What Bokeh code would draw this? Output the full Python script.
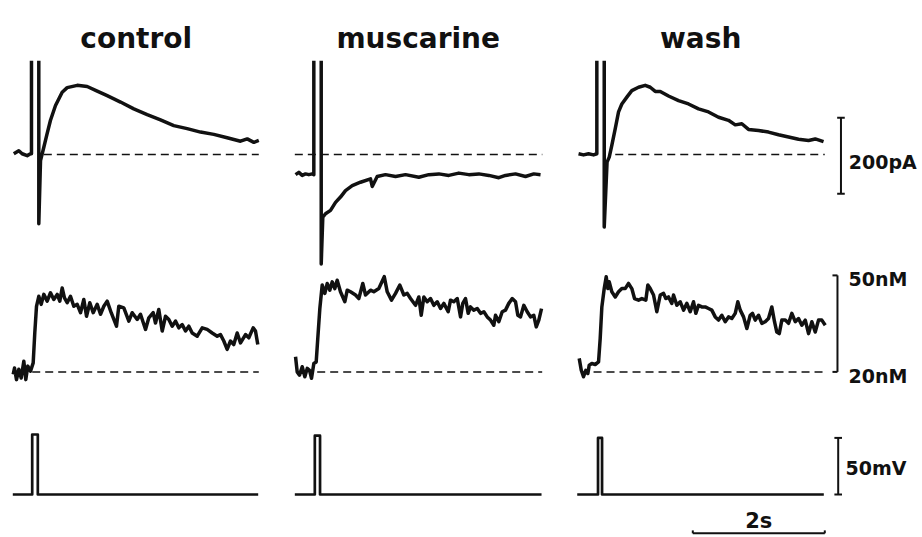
from bokeh.plotting import figure
from bokeh.models import Range1d
from bokeh.embed import file_html
from bokeh.resources import INLINE
from bokeh.core.properties import value

nan = float("nan")

# ---------------- data ----------------
conditions = ["control", "muscarine", "wash"]

# membrane current (pA), time (s) from start of each sweep; nan = off-scale gap of stimulus artifact
ctrl_cur_t = [0.015, 0.091, 0.142, 0.218, 0.268, 0.283, 0.283, nan, 0.394, 0.394, 0.42, 0.47, 0.52,
              0.571, 0.647, 0.748, 0.824, 0.976, 1.127, 1.279, 1.43, 1.632, 1.833, 2.036, 2.238,
              2.439, 2.642, 2.844, 3.045, 3.248, 3.45, 3.552, 3.652, 3.727]
ctrl_cur_pA = [2, 10, 2, -3, 2, 2, 247, nan, 247, -182, -16, 19, 55, 90, 129, 164, 176, 182, 179,
               167, 155, 138, 120, 105, 91, 76, 68, 59, 53, 44, 35, 41, 32, 37]

musc_cur_t = [0.011, 0.061, 0.112, 0.162, 0.212, 0.264, 0.288, 0.288, nan, 0.4, 0.4, 0.424, 0.465,
              0.541, 0.617, 0.692, 0.768, 0.87, 0.995, 1.147, 1.173, 1.248, 1.374, 1.526, 1.677,
              1.879, 2.03, 2.182, 2.333, 2.485, 2.636, 2.788, 2.939, 3.091, 3.192, 3.344, 3.495,
              3.621, 3.723]
musc_cur_pA = [-53, -47, -55, -51, -53, -51, -53, 247, nan, 247, -288, -165, -156, -147, -126, -112,
               -95, -82, -73, -64, -84, -58, -53, -58, -53, -60, -53, -51, -55, -49, -53, -51, -55,
               -61, -55, -51, -58, -51, -53]

wash_cur_t = [0.02, 0.095, 0.171, 0.247, 0.297, 0.297, nan, 0.409, 0.409, 0.452, 0.485, 0.524,
              0.576, 0.626, 0.676, 0.752, 0.827, 0.929, 1.03, 1.106, 1.182, 1.258, 1.383, 1.535,
              1.686, 1.838, 1.989, 2.141, 2.292, 2.394, 2.494, 2.595, 2.747, 2.898, 3.05, 3.202,
              3.353, 3.505, 3.606, 3.732]
wash_cur_pA = [2, -1, 2, -1, 2, 247, nan, 247, -191, -20, -7, 24, 68, 112, 133, 151, 168, 177, 182,
               177, 166, 166, 154, 142, 133, 120, 112, 98, 90, 78, 81, 66, 63, 59, 52, 46, 40, 37,
               41, 34]

# intracellular calcium (nM)
ctrl_ca_t = [0.006, 0.026, 0.056, 0.091, 0.127, 0.167, 0.197, 0.227, 0.268, 0.309, 0.333, 0.359,
             0.394, 0.43, 0.47, 0.521, 0.571, 0.621, 0.673, 0.712, 0.748, 0.783, 0.824, 0.874,
             0.924, 0.976, 1.026, 1.076, 1.117, 1.167, 1.218, 1.279, 1.329, 1.379, 1.43, 1.491,
             1.571, 1.606, 1.682, 1.758, 1.809, 1.885, 1.935, 2.011, 2.061, 2.127, 2.162, 2.212,
             2.264, 2.314, 2.364, 2.415, 2.465, 2.515, 2.567, 2.617, 2.667, 2.718, 2.794, 2.87,
             2.945, 3.021, 3.097, 3.147, 3.197, 3.248, 3.298, 3.348, 3.4, 3.45, 3.526, 3.576,
             3.642, 3.677, 3.712]
ctrl_ca_nM = [19.2, 21.2, 17.6, 20.8, 18.1, 23.3, 17.6, 21.8, 20.2, 22.8, 32.1, 40.4, 43.5, 41.0,
              44.1, 42.0, 44.6, 42.5, 44.1, 42.0, 46.1, 43.0, 41.5, 43.5, 40.4, 41.0, 38.4, 42.5,
              37.3, 41.5, 38.4, 41.0, 37.9, 40.4, 42.0, 38.4, 34.2, 40.4, 39.9, 35.8, 38.4, 36.3,
              37.9, 33.2, 36.8, 38.4, 35.2, 39.4, 32.7, 37.3, 36.3, 34.2, 35.8, 33.7, 34.7, 32.7,
              34.2, 32.1, 31.1, 33.7, 33.2, 32.1, 31.1, 31.6, 29.6, 27.0, 29.6, 28.5, 32.1, 29.0,
              31.6, 30.6, 33.7, 32.7, 28.5]

musc_ca_t = [0.011, 0.036, 0.071, 0.112, 0.152, 0.188, 0.223, 0.253, 0.288, 0.324, 0.348, 0.379,
             0.415, 0.455, 0.491, 0.53, 0.567, 0.606, 0.642, 0.692, 0.758, 0.794, 0.844, 0.92,
             0.97, 1.03, 1.071, 1.147, 1.197, 1.273, 1.355, 1.4, 1.465, 1.526, 1.591, 1.652,
             1.703, 1.753, 1.829, 1.879, 1.915, 1.955, 2.006, 2.056, 2.106, 2.158, 2.208, 2.258,
             2.324, 2.359, 2.409, 2.461, 2.511, 2.545, 2.586, 2.627, 2.662, 2.712, 2.764, 2.814,
             2.864, 2.915, 2.965, 3.015, 3.041, 3.091, 3.142, 3.192, 3.242, 3.294, 3.344, 3.379,
             3.42, 3.47, 3.521, 3.571, 3.621, 3.658, 3.697, 3.738]
musc_ca_nM = [24.7, 20.0, 19.0, 21.6, 18.5, 21.1, 20.5, 18.0, 22.6, 23.1, 30.4, 39.7, 47.0, 44.4,
              47.5, 45.4, 48.0, 45.9, 48.5, 44.9, 41.8, 45.4, 44.9, 43.9, 42.8, 47.5, 43.9, 45.4,
              44.9, 45.9, 49.6, 44.9, 42.3, 44.4, 47.0, 43.9, 44.4, 42.8, 40.7, 43.3, 37.6, 43.3,
              41.8, 42.8, 40.7, 41.8, 39.7, 41.3, 38.7, 42.3, 41.8, 42.8, 37.1, 41.3, 42.8, 38.2,
              40.2, 39.2, 39.7, 38.2, 38.7, 37.1, 36.1, 34.5, 37.6, 35.6, 38.7, 39.2, 41.3, 42.8,
              41.8, 37.6, 37.1, 40.7, 38.7, 37.1, 37.6, 34.0, 36.1, 39.7]

wash_ca_t = [0.03, 0.061, 0.095, 0.13, 0.161, 0.182, 0.221, 0.273, 0.323, 0.348, 0.373, 0.409,
             0.439, 0.464, 0.485, 0.524, 0.576, 0.626, 0.676, 0.727, 0.777, 0.827, 0.868, 0.929,
             0.979, 1.039, 1.07, 1.106, 1.156, 1.206, 1.258, 1.308, 1.342, 1.383, 1.433, 1.459,
             1.509, 1.561, 1.611, 1.661, 1.712, 1.762, 1.797, 1.838, 1.888, 1.939, 1.989, 2.039,
             2.091, 2.141, 2.191, 2.242, 2.292, 2.342, 2.394, 2.433, 2.47, 2.52, 2.57, 2.621,
             2.656, 2.697, 2.747, 2.797, 2.848, 2.898, 2.948, 2.989, 3.024, 3.061, 3.1, 3.152,
             3.202, 3.252, 3.303, 3.353, 3.403, 3.455, 3.505, 3.555, 3.606, 3.656, 3.706, 3.758]
wash_ca_nM = [24.2, 20.5, 18.5, 20.5, 19.5, 22.1, 22.6, 22.3, 23.1, 30.4, 40.2, 45.9, 49.6, 45.9,
              48.0, 44.9, 43.3, 44.9, 45.9, 45.9, 47.5, 45.9, 42.8, 42.3, 42.8, 42.3, 47.0, 45.9,
              43.9, 38.7, 43.9, 44.4, 42.8, 43.3, 41.3, 43.9, 40.7, 41.8, 39.2, 41.3, 38.7, 41.8,
              38.2, 40.7, 40.2, 40.2, 39.7, 39.2, 37.1, 36.1, 37.6, 35.6, 37.1, 36.6, 38.2, 41.8,
              39.2, 37.1, 33.5, 37.6, 38.2, 36.1, 37.6, 35.1, 35.6, 36.6, 40.2, 35.6, 32.4, 31.9,
              36.1, 36.1, 35.1, 38.2, 35.6, 36.6, 34.5, 36.1, 31.9, 35.6, 32.4, 36.1, 36.1, 34.5]

# command voltage (mV, relative to holding)
ctrl_v_t = [0.0, 0.294, 0.294, 0.379, 0.379, 3.718]
ctrl_v_mV = [0, 0, 53, 53, 0, 0]
musc_v_t = [0.0, 0.303, 0.303, 0.382, 0.382, 3.738]
musc_v_mV = [0, 0, 52, 52, 0, 0]
wash_v_t = [0.0, 0.315, 0.315, 0.376, 0.376, 3.736]
wash_v_mV = [0, 0, 50, 50, 0, 0]

# reference levels (dashed) and their time extents per sweep
cur_ref_pA = 0
cur_ref_span = [(0.47, 3.727), (0.0, 3.75), (0.576, 3.75)]
ca_ref_nM = 20
ca_ref_span = [(0.294, 3.727), (0.339, 3.748), (0.247, 3.758)]

# scale bars
bar_pA, bar_nM_lo, bar_nM_hi, bar_mV, bar_s = 200, 20, 50, 50, 2
bar_labels = ["200pA", "50nM", "20nM", "50mV", "2s"]

# ---------------- layout ----------------
W, H = 922, 537
PX_S = 66.0                     # pixels per second
x_start = -12.3 / PX_S
col_off = [0.0, 4.273, 8.552]   # sweep start of each column (s)
PX_PA, PX_NM, PX_MV = 0.38, 3.217, 1.132

cur_zero_px, ca20_px, mv_zero_px = 154.0, 371.4, 494.0   # from top of frame
cur_range = Range1d(-(H - cur_zero_px) / PX_PA, cur_zero_px / PX_PA)
ca_range = Range1d(20 - (H - ca20_px) / PX_NM, 20 + ca20_px / PX_NM)
mv_range = Range1d(-(H - mv_zero_px) / PX_MV, mv_zero_px / PX_MV)

p = figure(width=W, height=H, output_backend="svg", toolbar_location=None,
           x_range=Range1d(x_start, x_start + W / PX_S), y_range=cur_range,
           x_axis_location=None, y_axis_location=None, min_border=0,
           outline_line_color=None, background_fill_color="white",
           border_fill_color="white")
p.grid.visible = False
p.extra_y_ranges = {"ca": ca_range, "mv": mv_range}

INK = "#111111"
TW = 3.5

cur = [(ctrl_cur_t, ctrl_cur_pA), (musc_cur_t, musc_cur_pA), (wash_cur_t, wash_cur_pA)]
ca = [(ctrl_ca_t, ctrl_ca_nM), (musc_ca_t, musc_ca_nM), (wash_ca_t, wash_ca_nM)]
vv = [(ctrl_v_t, ctrl_v_mV), (musc_v_t, musc_v_mV), (wash_v_t, wash_v_mV)]

for i, off in enumerate(col_off):
    t, y = cur[i]
    p.line([a + off for a in t], y, line_color=INK, line_width=TW, line_join="round")
    t, y = ca[i]
    p.line([a + off for a in t], y, line_color=INK, line_width=TW, line_join="round",
           y_range_name="ca")
    t, y = vv[i]
    p.line([a + off for a in t], y, line_color=INK, line_width=2.7, line_join="round",
           y_range_name="mv")
    s, e = cur_ref_span[i]
    p.line([off + s, off + e], [cur_ref_pA, cur_ref_pA], line_color=INK, line_width=1.5,
           line_dash="8 5")
    s, e = ca_ref_span[i]
    p.line([off + s, off + e], [ca_ref_nM, ca_ref_nM], line_color=INK, line_width=1.5,
           line_dash="8 5", y_range_name="ca")

# condition titles
p.text(x=[off + 1.87 for off in col_off], y=[304] * 3, text=conditions,
       text_font=value("DejaVu Sans"), text_font_style="bold", text_font_size="28px",
       text_align="center", text_baseline="alphabetic", text_color=INK)

# --- scale bars ---
cap = 3.8 / PX_S
xb_pa = 12.548
pa_lo = -103.4
p.segment(x0=[xb_pa, xb_pa - cap, xb_pa - cap], y0=[pa_lo, pa_lo, pa_lo + bar_pA],
          x1=[xb_pa, xb_pa + cap, xb_pa + cap], y1=[pa_lo + bar_pA, pa_lo, pa_lo + bar_pA],
          line_color=INK, line_width=2)
xb_ca = 12.495
tick = 5.0 / PX_S
p.segment(x0=[xb_ca, xb_ca - tick, xb_ca - tick], y0=[bar_nM_lo, bar_nM_lo, bar_nM_hi],
          x1=[xb_ca, xb_ca, xb_ca], y1=[bar_nM_hi, bar_nM_lo, bar_nM_hi],
          line_color=INK, line_width=2, y_range_name="ca")
xb_mv = 12.506
p.segment(x0=[xb_mv, xb_mv - cap, xb_mv - cap], y0=[0, 0, bar_mV],
          x1=[xb_mv, xb_mv + cap, xb_mv + cap], y1=[bar_mV, 0, bar_mV],
          line_color=INK, line_width=2, y_range_name="mv")
xs0 = 10.303
ys = -34.3
up = 2.6
p.segment(x0=[xs0, xs0, xs0 + bar_s], y0=[ys, ys, ys], x1=[xs0 + bar_s, xs0, xs0 + bar_s],
          y1=[ys, ys + up, ys + up], line_color=INK, line_width=2, y_range_name="mv")

lab_font = dict(text_font=value("DejaVu Sans"), text_font_style="bold", text_color=INK,
                text_baseline="middle")
p.text(x=[12.667], y=[-20.0], text=[bar_labels[0]], text_font_size="19px",
       text_align="left", **lab_font)
p.text(x=[12.662, 12.662], y=[48.8, 18.6], text=bar_labels[1:3], text_font_size="19px",
       text_align="left", y_range_name="ca", **lab_font)
p.text(x=[12.617], y=[23.0], text=[bar_labels[3]], text_font_size="19px",
       text_align="left", y_range_name="mv", **lab_font)
p.text(x=[xs0 + bar_s / 2], y=[-23.5], text=[bar_labels[4]], text_font_size="21px",
       text_align="center", y_range_name="mv", **lab_font)

open("out.html", "w").write(file_html(p, INLINE))
